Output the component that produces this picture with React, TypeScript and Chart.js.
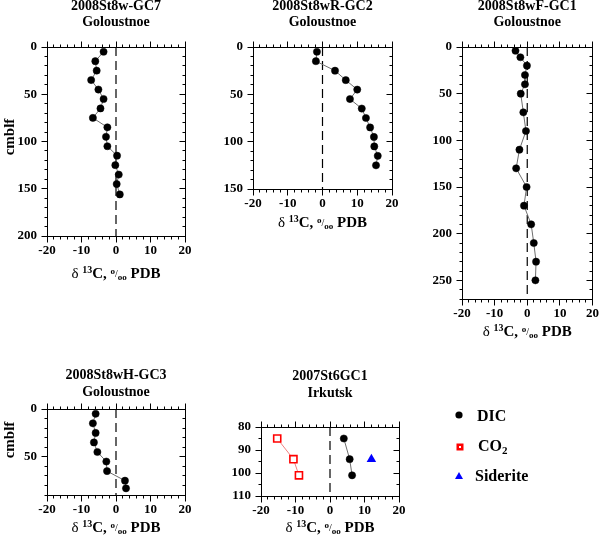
import React, { useEffect, useRef } from 'react';
import { Chart, registerables } from 'chart.js';
Chart.register(...registerables);

const PAGE_W = 606;
const PAGE_H = 537;
const SERIF = '"Liberation Serif", "Times New Roman", serif';

// ---- data ----
const xTickValues = [-20, -10, 0, 10, 20];

const gc7Depth = [5, 15, 25, 35, 45, 55, 65, 75, 85, 95, 105, 115, 125, 135, 145, 156];
const gc7Dic = [-3.6, -6.0, -5.6, -7.2, -5.1, -3.6, -4.5, -6.7, -2.5, -2.9, -2.5, 0.3, -0.2, 0.8, 0.2, 1.1];
const gc7YTicks = [0, 50, 100, 150, 200];

const gc2Depth = [5, 15, 25, 35, 45, 55, 65, 75, 85, 95, 105, 115, 125];
const gc2Dic = [-1.6, -1.9, 3.6, 6.7, 10.0, 7.9, 11.3, 12.5, 13.7, 14.8, 14.9, 15.9, 15.4];
const gc2YTicks = [0, 50, 100, 150];

const gc1Depth = [4, 11, 20, 30, 40, 50, 70, 90, 110, 130, 150, 170, 190, 210, 230, 250];
const gc1Dic = [-3.6, -2.1, -0.1, -0.7, -0.7, -2.0, -1.2, -0.4, -2.4, -3.4, -0.2, -1.0, 1.2, 2.0, 2.7, 2.5];
const gc1YTicks = [0, 50, 100, 150, 200, 250];

const gc3Depth = [5, 15, 25, 35, 45, 55, 65, 75, 83];
const gc3Dic = [-5.9, -6.7, -5.9, -6.4, -5.4, -2.8, -2.6, 2.6, 2.9];
const gc3YTicks = [0, 50];

const irkDicDepth = [85, 94, 101];
const irkDic = [4.0, 5.7, 6.4];
const irkCo2Depth = [85, 94, 101];
const irkCo2 = [-15.3, -10.6, -9.0];
const irkSideriteDepth = [94];
const irkSiderite = [12.0];
const irkYTicks = [80, 90, 100, 110];

const legendLabels = ['DIC', 'CO', 'Siderite'];

// ---- styling helpers ----
const pts = (xs: number[], ys: number[]) => xs.map((x, i) => ({ x, y: ys[i] }));

const dicSet = (xs: number[], ys: number[]) => ({
  data: pts(xs, ys),
  showLine: true,
  borderColor: '#6e6e6e',
  borderWidth: 1,
  pointRadius: 3.6,
  pointStyle: 'circle',
  pointBackgroundColor: '#000',
  pointBorderColor: '#000',
  pointBorderWidth: 0.5,
  order: 1,
});

const zeroSet = (yMin: number, yMax: number) => ({
  data: [{ x: 0, y: yMin }, { x: 0, y: yMax }],
  showLine: true,
  borderColor: '#000',
  borderWidth: 1.2,
  borderDash: [9, 5],
  pointRadius: 0,
  order: 5,
});

type Panel = {
  id: string;
  titles: string[];
  L: number; T: number; R: number; B: number;
  yMin: number; yMax: number; yTicks: number[]; yMinor: number;
  titleY: number[];
  xLabelY: number;
  yLabel?: { x: number; y: number };
  legend?: boolean;
  datasets: any[];
};

const panels: Panel[] = [
  {
    id: 'gc7', titles: ['2008St8w-GC7', 'Goloustnoe'],
    L: 47, T: 47, R: 185, B: 236, yMin: 0, yMax: 200, yTicks: gc7YTicks, yMinor: 10,
    titleY: [6, 22], xLabelY: 273, yLabel: { x: 10, y: 137 },
    datasets: [dicSet(gc7Dic, gc7Depth), zeroSet(0, 200)],
  },
  {
    id: 'gc2', titles: ['2008St8wR-GC2', 'Goloustnoe'],
    L: 253, T: 47, R: 392, B: 189, yMin: 0, yMax: 150, yTicks: gc2YTicks, yMinor: 10,
    titleY: [6, 22], xLabelY: 222,
    datasets: [dicSet(gc2Dic, gc2Depth), zeroSet(0, 150)],
  },
  {
    id: 'gc1', titles: ['2008St8wF-GC1', 'Goloustnoe'],
    L: 462, T: 47, R: 600, B: 299, yMin: 0, yMax: 270, yTicks: gc1YTicks, yMinor: 10,
    titleY: [6, 22], xLabelY: 331,
    datasets: [dicSet(gc1Dic, gc1Depth), zeroSet(0, 270)],
  },
  {
    id: 'gc3', titles: ['2008St8wH-GC3', 'Goloustnoe'],
    L: 47, T: 409, R: 185, B: 495, yMin: 0, yMax: 90, yTicks: gc3YTicks, yMinor: 10,
    titleY: [375, 392], xLabelY: 527, yLabel: { x: 10, y: 440 },
    datasets: [dicSet(gc3Dic, gc3Depth), zeroSet(0, 90)],
  },
  {
    id: 'irk', titles: ['2007St6GC1', 'Irkutsk'],
    L: 261, T: 427, R: 399, B: 496, yMin: 80, yMax: 110, yTicks: irkYTicks, yMinor: 5,
    titleY: [376, 393], xLabelY: 527, legend: true,
    datasets: [
      dicSet(irkDic, irkDicDepth),
      {
        data: pts(irkCo2, irkCo2Depth),
        showLine: true,
        borderColor: '#f08080',
        borderWidth: 1,
        pointStyle: 'rect',
        pointRadius: 5,
        pointBackgroundColor: '#fff',
        pointBorderColor: '#ff0000',
        pointBorderWidth: 1.6,
        order: 1,
      },
      {
        data: pts(irkSiderite, irkSideriteDepth),
        showLine: false,
        pointStyle: 'triangle',
        pointRadius: 5.5,
        pointBackgroundColor: '#0000ff',
        pointBorderColor: '#0000ff',
        pointBorderWidth: 0,
        order: 1,
      },
      zeroSet(80, 110),
    ],
  },
];

const X_AXIS_H = 30;
const Y_AXIS_W = 40;

function line(ctx: CanvasRenderingContext2D, x1: number, y1: number, x2: number, y2: number) {
  ctx.beginPath();
  ctx.moveTo(x1, y1);
  ctx.lineTo(x2, y2);
  ctx.stroke();
}

function drawXLabel(ctx: CanvasRenderingContext2D, cx: number, cy: number) {
  const parts = [
    { t: '\u03b4 ', f: `15px ${SERIF}`, dy: 0 },
    { t: '13', f: `bold 10px ${SERIF}`, dy: -5 },
    { t: 'C, ', f: `bold 15px ${SERIF}`, dy: 0 },
    { t: 'o', f: `bold 9px ${SERIF}`, dy: -4 },
    { t: '/', f: `10px ${SERIF}`, dy: -1 },
    { t: 'oo', f: `bold 9px ${SERIF}`, dy: 2 },
    { t: ' PDB', f: `bold 15px ${SERIF}`, dy: 0 },
  ];
  let total = 0;
  const widths = parts.map((p) => {
    ctx.font = p.f;
    const w = ctx.measureText(p.t).width;
    total += w;
    return w;
  });
  let x = cx - total / 2;
  const base = cy + 5;
  ctx.textAlign = 'left';
  ctx.textBaseline = 'alphabetic';
  ctx.fillStyle = '#000';
  parts.forEach((p, i) => {
    ctx.font = p.f;
    ctx.fillText(p.t, x, base + p.dy);
    x += widths[i];
  });
}

function makeDecor(p: Panel) {
  return {
    id: 'decor_' + p.id,
    afterDraw(chart: any) {
      const ctx: CanvasRenderingContext2D = chart.ctx;
      const xs = chart.scales.x;
      const ys = chart.scales.y;
      const { left, right, top, bottom } = chart.chartArea;
      const l = Math.floor(left) + 0.5;
      const r = Math.floor(right) + 0.5;
      const t = Math.floor(top) + 0.5;
      const b = Math.floor(bottom) + 0.5;
      ctx.save();
      ctx.strokeStyle = '#000';
      ctx.lineWidth = 1;
      ctx.strokeRect(l, t, r - l, b - t);
      // x ticks (every 2, major every 10)
      for (let v = -20; v <= 20; v += 2) {
        const px = Math.floor(xs.getPixelForValue(v)) + 0.5;
        const major = v % 10 === 0;
        const len = major ? 6 : 3;
        line(ctx, px, b, px, b + len);
        line(ctx, px, t, px, t - len);
      }
      // y ticks
      for (let v = p.yMin; v <= p.yMax + 1e-9; v += p.yMinor) {
        const py = Math.floor(ys.getPixelForValue(v)) + 0.5;
        const major = p.yTicks.includes(v);
        const len = major ? 6 : 3;
        line(ctx, l - len, py, l, py);
        line(ctx, r - len, py, r, py);
      }
      // titles
      const cx = (left + right) / 2;
      ctx.fillStyle = '#000';
      ctx.font = `bold 14px ${SERIF}`;
      ctx.textAlign = 'center';
      ctx.textBaseline = 'middle';
      p.titles.forEach((s, i) => ctx.fillText(s, cx, p.titleY[i]));
      // x label
      drawXLabel(ctx, cx, p.xLabelY);
      // y label
      if (p.yLabel) {
        ctx.save();
        ctx.translate(p.yLabel.x, p.yLabel.y);
        ctx.rotate(-Math.PI / 2);
        ctx.font = `bold 15px ${SERIF}`;
        ctx.textAlign = 'center';
        ctx.textBaseline = 'middle';
        ctx.fillText('cmblf', 0, 0);
        ctx.restore();
      }
      // legend
      if (p.legend) {
        const tx = 477;
        // DIC
        ctx.fillStyle = '#000';
        ctx.beginPath();
        ctx.arc(459, 415, 3.6, 0, Math.PI * 2);
        ctx.fill();
        // CO2
        ctx.fillStyle = '#ff0000';
        ctx.fillRect(456.5, 443.5, 7, 7);
        ctx.fillStyle = '#fff';
        ctx.fillRect(459, 446, 2, 2);
        // Siderite
        ctx.fillStyle = '#0000ff';
        ctx.beginPath();
        ctx.moveTo(459, 472);
        ctx.lineTo(463, 479);
        ctx.lineTo(455, 479);
        ctx.closePath();
        ctx.fill();
        ctx.fillStyle = '#000';
        ctx.font = `bold 16px ${SERIF}`;
        ctx.textAlign = 'left';
        ctx.textBaseline = 'middle';
        ctx.fillText(legendLabels[0], tx, 416.5);
        ctx.fillText(legendLabels[1], tx + 1, 447);
        const wCO = ctx.measureText(legendLabels[1]).width;
        ctx.font = `bold 11px ${SERIF}`;
        ctx.fillText('2', tx + 1 + wCO, 451);
        ctx.font = `bold 16px ${SERIF}`;
        ctx.fillText(legendLabels[2], tx - 2, 477);
      }
      ctx.restore();
    },
  };
}

function PanelChart({ p }: { p: Panel }) {
  const ref = useRef<HTMLCanvasElement>(null);
  useEffect(() => {
    if (!ref.current) return;
    const chart = new Chart(ref.current, {
      type: 'scatter',
      data: { datasets: p.datasets as any },
      options: {
        animation: false,
        responsive: false,
        devicePixelRatio: 1,
        events: [],
        layout: {
          padding: {
            left: p.L - Y_AXIS_W,
            top: p.T,
            right: PAGE_W - p.R,
            bottom: PAGE_H - p.B - X_AXIS_H,
          },
        },
        plugins: { legend: { display: false }, tooltip: { enabled: false } },
        scales: {
          x: {
            type: 'linear',
            position: 'bottom',
            min: -20,
            max: 20,
            grid: { display: false, drawTicks: false },
            border: { display: false },
            ticks: {
              color: '#000',
              font: { family: SERIF, size: 13, weight: 'bold' },
              padding: 7,
              maxRotation: 0,
              minRotation: 0,
              autoSkip: false,
            },
            afterBuildTicks: (s: any) => {
              s.ticks = xTickValues.map((v) => ({ value: v }));
            },
            afterFit: (s: any) => {
              s.height = X_AXIS_H;
            },
          },
          y: {
            type: 'linear',
            reverse: true,
            min: p.yMin,
            max: p.yMax,
            grid: { display: false, drawTicks: false },
            border: { display: false },
            ticks: {
              color: '#000',
              font: { family: SERIF, size: 13, weight: 'bold' },
              padding: 10,
              autoSkip: false,
            },
            afterBuildTicks: (s: any) => {
              s.ticks = p.yTicks.map((v) => ({ value: v }));
            },
            afterFit: (s: any) => {
              s.width = Y_AXIS_W;
            },
          },
        },
      } as any,
      plugins: [makeDecor(p)],
    });
    return () => chart.destroy();
  }, [p]);
  return (
    <canvas
      ref={ref}
      width={PAGE_W}
      height={PAGE_H}
      style={{ position: 'absolute', left: 0, top: 0, width: PAGE_W, height: PAGE_H }}
    />
  );
}

export default function App() {
  return (
    <div
      style={{
        position: 'absolute',
        left: 0,
        top: 0,
        width: PAGE_W,
        height: PAGE_H,
        background: '#fff',
        overflow: 'hidden',
      }}
    >
      {panels.map((p) => (
        <PanelChart key={p.id} p={p} />
      ))}
    </div>
  );
}
